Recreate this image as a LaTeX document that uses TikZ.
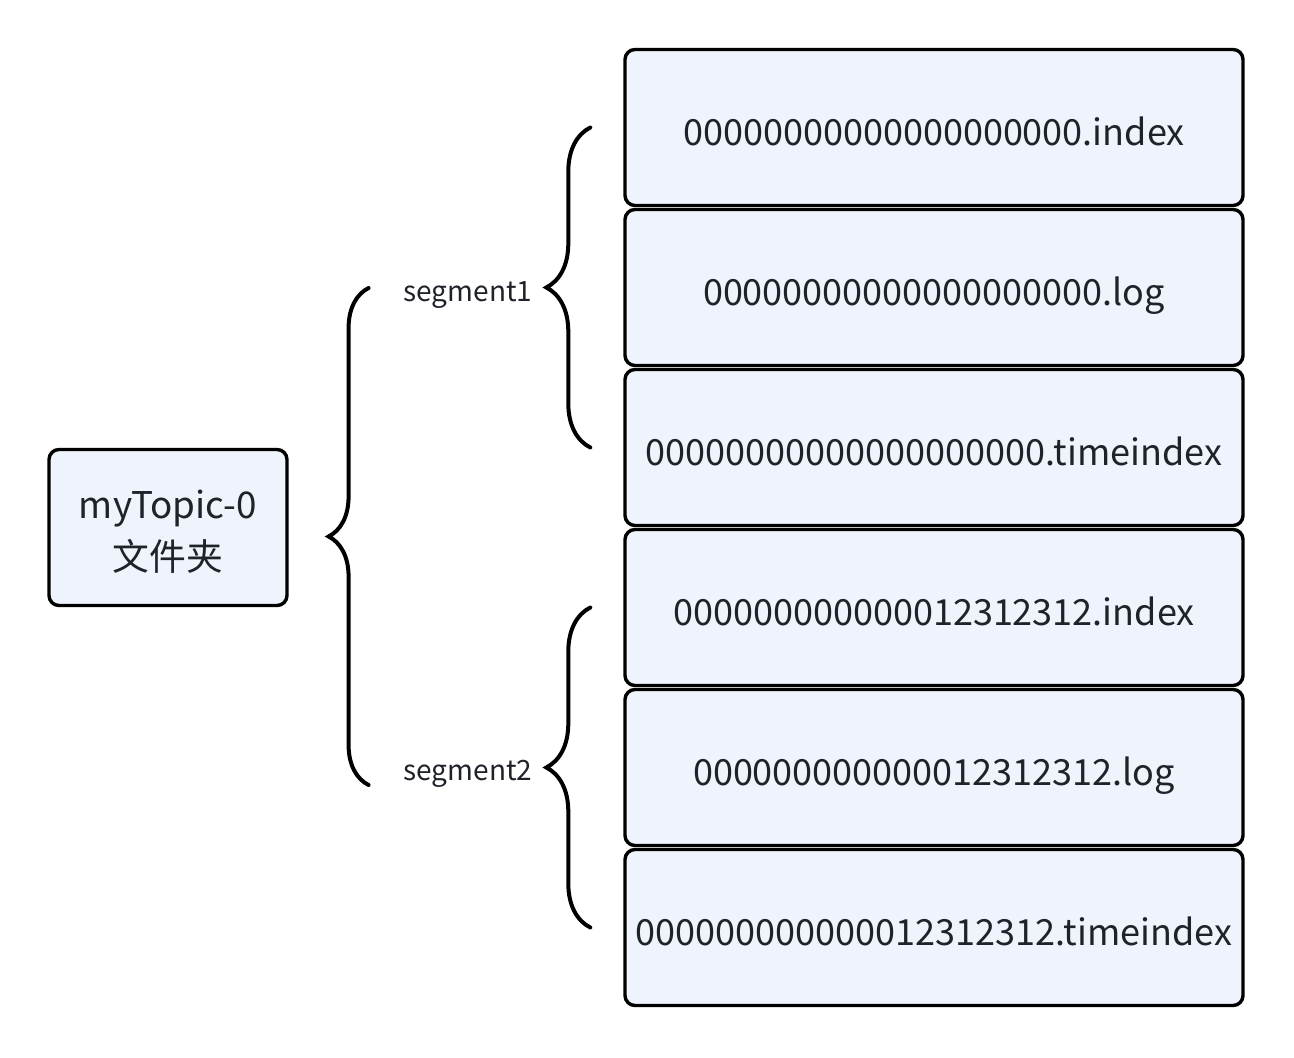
\documentclass[tikz,border=0pt]{standalone}
\usepackage{fontspec}
\setmainfont{Noto Sans CJK SC}
\usetikzlibrary{calc,decorations.pathreplacing}
\definecolor{boxfill}{RGB}{239,244,252}
\definecolor{ink}{RGB}{31,35,41}
\tikzset{
  filebox/.style={draw,line width=1.7pt,rounded corners=5pt,fill=boxfill,
    minimum width=309pt,minimum height=78pt,text=ink,
    text height=20pt,text depth=2pt,
    font=\fontsize{18}{26}\selectfont},
  dirbox/.style={draw,line width=1.7pt,rounded corners=5pt,fill=boxfill,
    minimum width=119pt,minimum height=78pt,text=ink,align=center,
    text height=44pt,font=\fontsize{18.4}{26}\selectfont},
  seglabel/.style={text=ink,font=\fontsize{14}{16}\selectfont},
  curly/.style={line width=2pt,line cap=round,decorate,
    decoration={brace,amplitude=22pt}}
}
\begin{document}
\begin{tikzpicture}[x=0.5pt,y=-0.5pt]
\useasboundingbox (0,0) rectangle (1294,1058);
% topic folder
\node[dirbox] (topic) at (168,527.5) {myTopic-0\\文件夹};
% segment files
\node[filebox] (idx1) at (934,127.5) {00000000000000000000.index};
\node[filebox] (log1) at (934,287.5) {00000000000000000000.log};
\node[filebox] (tidx1) at (934,447.5) {00000000000000000000.timeindex};
\node[filebox] (idx2) at (934,607.5) {000000000000012312312.index};
\node[filebox] (log2) at (934,767.5) {000000000000012312312.log};
\node[filebox] (tidx2) at (934,927.5) {000000000000012312312.timeindex};
% segment labels
\node[seglabel] (seg1) at (468,295) {segment1};
\node[seglabel] (seg2) at (468,774) {segment2};
% braces
\draw[curly,decoration={amplitude=20pt}] ($(seg2.west)+(-28,11)$) -- ($(seg1.west)+(-28,-7)$);
\draw[curly] ($(tidx1.west)+(-33,0)$) -- ($(idx1.west)+(-33,0)$);
\draw[curly] ($(tidx2.west)+(-33,0)$) -- ($(idx2.west)+(-33,0)$);
\end{tikzpicture}
\end{document}
